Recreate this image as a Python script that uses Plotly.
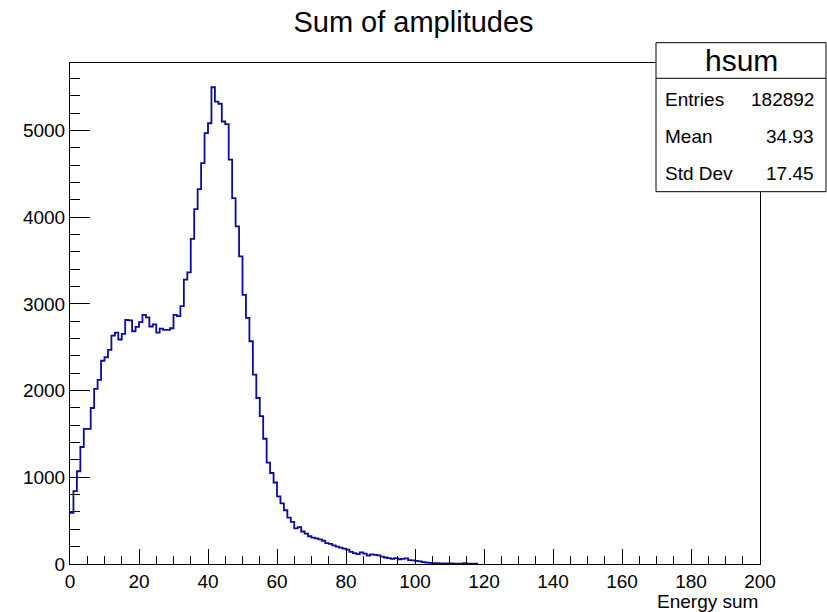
import plotly.graph_objects as go

# ---------------- data ----------------
bin_low = 0.0
bin_width = 1.0
n_bins = 200
counts = [
    590, 840, 1070, 1350, 1560, 1560, 1800, 2020, 2125, 2345,
    2385, 2470, 2635, 2670, 2590, 2655, 2815, 2810, 2685, 2735,
    2790, 2875, 2845, 2740, 2765, 2670, 2715, 2700, 2700, 2720,
    2875, 2860, 2975, 3280, 3365, 3750, 4095, 4325, 4625, 4970,
    5085, 5500, 5335, 5310, 5105, 5075, 4665, 4220, 3895, 3550,
    3105, 2840, 2570, 2185, 1915, 1705, 1445, 1170, 1050, 940,
    780, 700, 620, 535, 485, 410, 425, 375, 350, 320,
    305, 295, 285, 268, 240, 232, 215, 200, 190, 178,
    165, 140, 125, 115, 135, 120, 98, 110, 105, 100,
    85, 75, 68, 60, 68, 55, 60, 65, 45, 42,
    35, 30, 22, 15, 12, 10, 10, 8, 8, 6,
    6, 5, 5, 4, 10, 4, 3, 3,
]
counts = counts + [0] * (n_bins - len(counts))

title_text = "Sum of amplitudes"
x_title = "Energy sum"
stats_name = "hsum"
stats_labels = ["Entries", "Mean", "Std Dev"]
stats_values = ["182892", "34.93", "17.45"]
x_range = [0, 200]
y_range = [0, 5780]

# ---------------- geometry ----------------
W, H = 827, 612
L, R, T, B = 70, 760, 63, 564

def px(x):
    return (x - L) / (R - L)

def py(y):
    return (B - y) / (B - T)

# trim trailing empty bins for the outline
last = max(i for i, c in enumerate(counts) if c > 0)
edges = [bin_low + i * bin_width for i in range(last + 2)]
yvals = counts[: last + 1] + [0]

FONT = "Liberation Sans, Arial, Helvetica, sans-serif"

fig = go.Figure()
fig.add_trace(go.Scatter(
    x=edges, y=yvals, mode="lines", line_shape="hv",
    line=dict(color="#0a0a9e", width=1.8), hoverinfo="skip", showlegend=False,
))

axis_common = dict(
    showline=True, linecolor="black", linewidth=1, mirror=True,
    showgrid=False, zeroline=False, ticks="inside", tickcolor="black",
    tickwidth=1, tickfont=dict(family=FONT, size=19, color="black"),
)

fig.update_xaxes(range=x_range, dtick=20, tick0=0, ticklen=15,
                 minor=dict(dtick=5, ticks="inside", ticklen=8, tickcolor="black", showgrid=False),
                 **axis_common)
fig.update_yaxes(range=y_range, dtick=1000, tick0=0, ticklen=20,
                 minor=dict(dtick=200, ticks="inside", ticklen=10, tickcolor="black", showgrid=False),
                 **axis_common)

shapes = [
    dict(type="rect", xref="paper", yref="paper", x0=px(656), x1=px(826), y0=py(191.7), y1=py(42.7),
         fillcolor="white", line=dict(color="black", width=1), layer="above"),
    dict(type="line", xref="paper", yref="paper", x0=px(656), x1=px(826), y0=py(78.3), y1=py(78.3),
         line=dict(color="black", width=1), layer="above"),
]

annotations = [
    dict(text=x_title, xref="paper", yref="paper", x=px(760), y=py(601), xanchor="right", yanchor="middle",
         showarrow=False, font=dict(family=FONT, size=19, color="black")),
    dict(text=stats_name, xref="paper", yref="paper", x=px(741), y=py(61), xanchor="center", yanchor="middle",
         showarrow=False, font=dict(family=FONT, size=30, color="black")),
]
row_y = [99.5, 136, 173]
for lab, val, yy in zip(stats_labels, stats_values, row_y):
    annotations.append(dict(text=lab, xref="paper", yref="paper", x=px(663), y=py(yy), xanchor="left",
                            yanchor="middle", showarrow=False, font=dict(family=FONT, size=19, color="black")))
    annotations.append(dict(text=val, xref="paper", yref="paper", x=px(816), y=py(yy), xanchor="right",
                            yanchor="middle", showarrow=False, font=dict(family=FONT, size=19, color="black")))

fig.update_layout(
    width=W, height=H,
    margin=dict(l=L, r=W - R, t=T, b=H - B, pad=0),
    paper_bgcolor="white", plot_bgcolor="white",
    title=dict(text=title_text, x=0.5, xref="container", xanchor="center",
               y=1 - 22 / H, yref="container", yanchor="middle",
               font=dict(family=FONT, size=29, color="black")),
    shapes=shapes, annotations=annotations, showlegend=False,
)

fig.write_html("out.html")
